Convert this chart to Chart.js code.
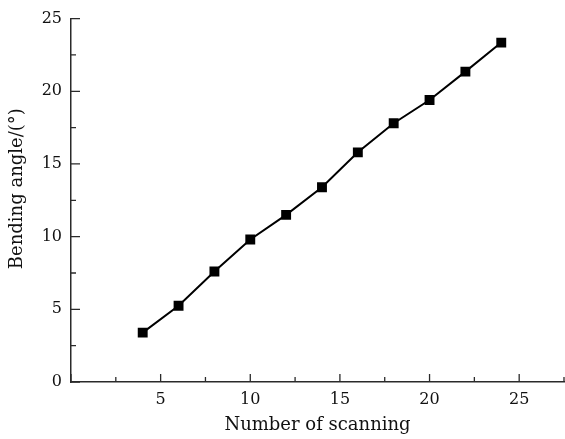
<!DOCTYPE html>
<html>
<head>
<meta charset="utf-8">
<script src="https://cdn.jsdelivr.net/npm/chart.js@4/dist/chart.umd.min.js"></script>
<style>
  html, body { margin: 0; padding: 0; background: #fff; }
  #wrap { width: 565px; height: 439px; }
</style>
</head>
<body>
<div id="wrap"><canvas id="chart"></canvas></div>
<script>
// data
const scans = [4, 6, 8, 10, 12, 14, 16, 18, 20, 22, 24];
const angles = [3.4, 5.25, 7.6, 9.8, 11.5, 13.4, 15.8, 17.8, 19.4, 21.35, 23.35];
const xTitle = "Number of scanning";
const yTitle = "Bending angle/(°)";

const serif = "'DejaVu Serif', serif";
const axisColor = "#2a2a2a";

// inward ticks (long on multiples of 5) + y title sitting a bit above centre
const axisExtras = {
  id: 'axisExtras',
  afterDraw(c) {
    const ctx = c.ctx;
    const xs = c.scales.x, ys = c.scales.y;
    ctx.save();
    ctx.strokeStyle = axisColor;
    ctx.lineWidth = 1.3;
    ctx.beginPath();
    xs.ticks.forEach(t => {
      const px = xs.getPixelForValue(t.value);
      const len = t.value % 5 === 0 ? 8 : 5;
      ctx.moveTo(px, ys.bottom);
      ctx.lineTo(px, ys.bottom - len);
    });
    ys.ticks.forEach(t => {
      const py = ys.getPixelForValue(t.value);
      const len = t.value % 5 === 0 ? 9 : 5;
      ctx.moveTo(xs.left, py);
      ctx.lineTo(xs.left + len, py);
    });
    ctx.stroke();

    ctx.translate(17, ys.getPixelForValue(13.3));
    ctx.rotate(-Math.PI / 2);
    ctx.fillStyle = '#111';
    ctx.font = "18px " + serif;
    ctx.textAlign = 'center';
    ctx.textBaseline = 'middle';
    ctx.fillText(yTitle, 0, 0);
    ctx.restore();
  }
};

new Chart(document.getElementById('chart'), {
  type: 'line',
  data: {
    datasets: [{
      data: scans.map((s, i) => ({x: s, y: angles[i]})),
      borderColor: '#000',
      borderWidth: 2,
      backgroundColor: '#000',
      pointStyle: 'rect',
      pointRadius: 7,
      pointBorderWidth: 0,
      tension: 0
    }]
  },
  options: {
    responsive: true,
    maintainAspectRatio: false,
    animation: false,
    layout: { autoPadding: false, padding: { top: 16, right: 1, left: 0, bottom: 0 } },
    plugins: { legend: { display: false }, tooltip: { enabled: false } },
    scales: {
      x: {
        type: 'linear',
        min: 0, max: 27.5,
        grid: { display: false, drawTicks: false },
        border: { display: true, color: axisColor, width: 1.5 },
        ticks: {
          stepSize: 2.5, autoSkip: false, maxRotation: 0,
          padding: 8, color: '#111',
          font: { family: serif, size: 16 },
          callback: v => (v % 5 === 0 && v !== 0) ? String(v) : ''
        },
        title: {
          display: true, text: xTitle, color: '#111',
          font: { family: serif, size: 18 },
          padding: { top: 0, bottom: 3 }
        },
        afterFit: s => { s.height = 57; s.paddingRight = 0; s.paddingLeft = 0; }
      },
      y: {
        min: 0, max: 25,
        grid: { display: false, drawTicks: false },
        border: { display: true, color: axisColor, width: 1.5 },
        ticks: {
          stepSize: 2.5, autoSkip: false,
          padding: 9, color: '#111',
          font: { family: serif, size: 16 },
          callback: v => v % 5 === 0 ? String(v) : ''
        },
        afterFit: s => { s.width = 71; }
      }
    }
  },
  plugins: [axisExtras]
});
</script>
</body>
</html>
